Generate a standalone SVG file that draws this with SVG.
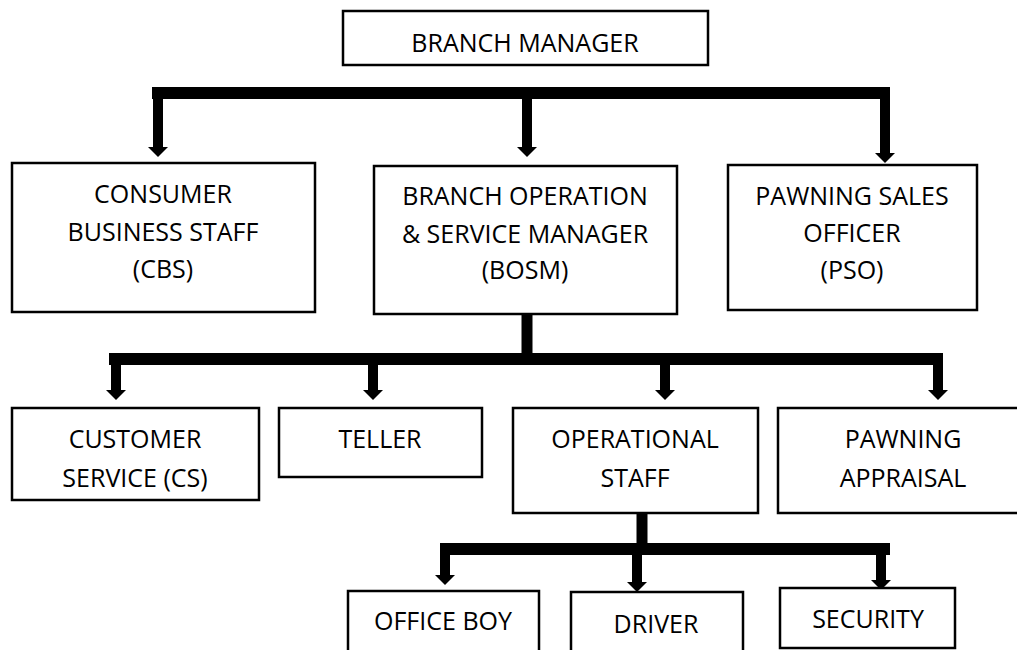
<svg xmlns="http://www.w3.org/2000/svg" width="1017" height="650" viewBox="0 0 1017 650">
<style>
.box{fill:#fff;stroke:#000;stroke-width:2.5}
.t{font-family:"Open Sans","Liberation Sans",sans-serif;font-size:25px;fill:#000;text-anchor:middle}
.bar{stroke:#000;stroke-width:12;fill:none}
.stem{stroke:#000;stroke-width:10;fill:none;marker-end:url(#ah)}
.trunk{stroke:#000;stroke-width:11;fill:none}
</style>
<defs>
<marker id="ah" markerUnits="userSpaceOnUse" viewBox="0 0 10 20" markerWidth="10" markerHeight="20" refX="0" refY="10" orient="auto">
<path d="M0,0 L10,10 L0,20 Z" fill="#000"/>
</marker>
</defs>
<rect width="1017" height="650" fill="#fff"/>
<g id="connectors">
<path class="bar" d="M152,93 H890"/>
<line class="stem" x1="158" y1="93" x2="158" y2="147"/>
<line class="stem" x1="527" y1="93" x2="527" y2="147"/>
<line class="stem" x1="885" y1="93" x2="885" y2="153"/>
<line class="trunk" x1="527" y1="314" x2="527" y2="359"/>
<path class="bar" d="M109,359 H943"/>
<line class="stem" x1="116" y1="359" x2="116" y2="390"/>
<line class="stem" x1="373" y1="359" x2="373" y2="390"/>
<line class="stem" x1="665" y1="359" x2="665" y2="390"/>
<line class="stem" x1="938" y1="359" x2="938" y2="390"/>
<line class="trunk" x1="642" y1="513" x2="642" y2="549"/>
<path class="bar" d="M440,549 H890"/>
<line class="stem" x1="445" y1="549" x2="445" y2="575"/>
<line class="stem" x1="637" y1="549" x2="637" y2="582"/>
<line class="stem" x1="881" y1="549" x2="881" y2="580"/>
</g>
<g id="branch-manager"><rect class="box" x="343" y="11" width="365" height="54"/><text class="t" x="525" y="52">BRANCH MANAGER</text></g>
<g id="cbs"><rect class="box" x="12" y="163" width="303" height="149"/><text class="t" x="163" y="203">CONSUMER</text><text class="t" x="163" y="241">BUSINESS STAFF</text><text class="t" x="163" y="278">(CBS)</text></g>
<g id="bosm"><rect class="box" x="374" y="166" width="303" height="148"/><text class="t" x="525" y="205">BRANCH OPERATION</text><text class="t" x="525" y="243">&amp; SERVICE MANAGER</text><text class="t" x="525" y="279">(BOSM)</text></g>
<g id="pso"><rect class="box" x="728" y="165" width="249" height="145"/><text class="t" x="852" y="205">PAWNING SALES</text><text class="t" x="852" y="242">OFFICER</text><text class="t" x="852" y="279">(PSO)</text></g>
<g id="cs"><rect class="box" x="12" y="408" width="247" height="92"/><text class="t" x="135" y="448">CUSTOMER</text><text class="t" x="135" y="487">SERVICE (CS)</text></g>
<g id="teller"><rect class="box" x="279" y="408" width="203" height="69"/><text class="t" x="380" y="448">TELLER</text></g>
<g id="operational-staff"><rect class="box" x="513" y="408" width="245" height="105"/><text class="t" x="635" y="448">OPERATIONAL</text><text class="t" x="635" y="487">STAFF</text></g>
<g id="pawning-appraisal"><rect class="box" x="778" y="408" width="250" height="105"/><text class="t" x="903" y="448">PAWNING</text><text class="t" x="903" y="487">APPRAISAL</text></g>
<g id="office-boy"><rect class="box" x="348" y="591" width="191" height="70"/><text class="t" x="443" y="630">OFFICE BOY</text></g>
<g id="driver"><rect class="box" x="571" y="592" width="172" height="70"/><text class="t" x="656" y="633">DRIVER</text></g>
<g id="security"><rect class="box" x="780" y="588" width="175" height="60"/><text class="t" x="868" y="628">SECURITY</text></g>
</svg>
